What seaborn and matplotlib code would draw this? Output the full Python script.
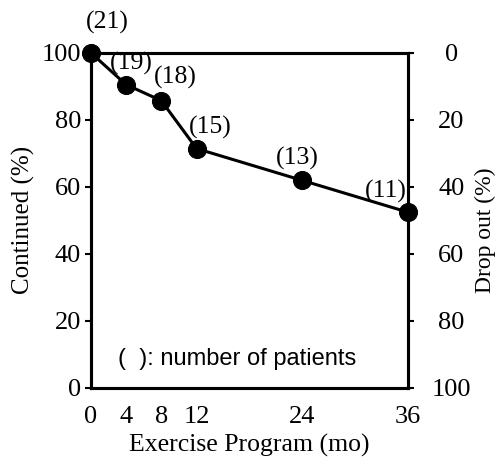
import matplotlib
matplotlib.use("Agg")
import matplotlib.pyplot as plt
import seaborn as sns
import pandas as pd

months = [0, 4, 8, 12, 24, 36]
continued = [100, 90.5, 85.7, 71.4, 61.9, 52.4]
patients = ["(21)", "(19)", "(18)", "(15)", "(13)", "(11)"]
xticks = [0, 4, 8, 12, 24, 36]
yticks = [0, 20, 40, 60, 80, 100]

# label offsets in points (style)
offsets = [(12, 22), (4, 15), (10, 17), (10, 15), (-4, 16), (-16, 15)]

sns.set_style("white")
plt.rcParams['font.family'] = ['Liberation Serif', 'DejaVu Serif']
plt.rcParams['text.color'] = 'black'
plt.rcParams['axes.labelcolor'] = 'black'
plt.rcParams['xtick.color'] = 'black'
plt.rcParams['ytick.color'] = 'black'
plt.rcParams['axes.edgecolor'] = 'black'

fig = plt.figure(figsize=(4.99, 4.59), dpi=100)
ax = fig.add_axes([0.182, 0.155, 0.636, 0.73])

df = pd.DataFrame({"month": months, "continued": continued})
sns.lineplot(data=df, x="month", y="continued", ax=ax, color="black",
             linewidth=2.2, marker="o", markersize=13, markeredgecolor="black",
             clip_on=False, zorder=5)

ax.set_xlim(0, 36)
ax.set_ylim(0, 100)
ax.set_xticks(xticks)
ax.set_xticklabels([str(t) for t in xticks])
ax.set_yticks(yticks)
for s in ax.spines.values():
    s.set_linewidth(2.2)
    s.set_color("black")
ax.tick_params(axis="x", length=0, pad=13, labelsize=19)
ax.tick_params(axis="y", direction="out", length=4, width=1.5, pad=3, labelsize=19, left=True)
ax.set_xlabel("Exercise Program (mo)", fontsize=18.5, labelpad=4)
ax.set_ylabel("Continued (%)", fontsize=18, labelpad=5)

ax2 = ax.twinx()
ax2.set_ylim(100, 0)
ax2.set_yticks(yticks)
ax2.tick_params(axis="y", direction="out", length=4, width=1.5, pad=27, labelsize=19, right=True)
for lab in ax2.get_yticklabels():
    lab.set_horizontalalignment("center")
for s in ax2.spines.values():
    s.set_linewidth(2.2)
    s.set_color("black")
ax2.set_ylabel("Drop out (%)", fontsize=17, labelpad=3)
ax2.yaxis.label.set_y(0.47)

for m, c, p, (dx, dy) in zip(months, continued, patients, offsets):
    ax.annotate(p, (m, c), xytext=(dx, dy), textcoords="offset points",
                ha="center", va="center", fontsize=18.5, zorder=6, annotation_clip=False)

ax.text(0.46, 0.087, "(  ): number of patients", transform=ax.transAxes,
        ha="center", va="center", fontsize=17, family=["Liberation Sans", "DejaVu Sans"])

fig.savefig("out.png", dpi=100)
